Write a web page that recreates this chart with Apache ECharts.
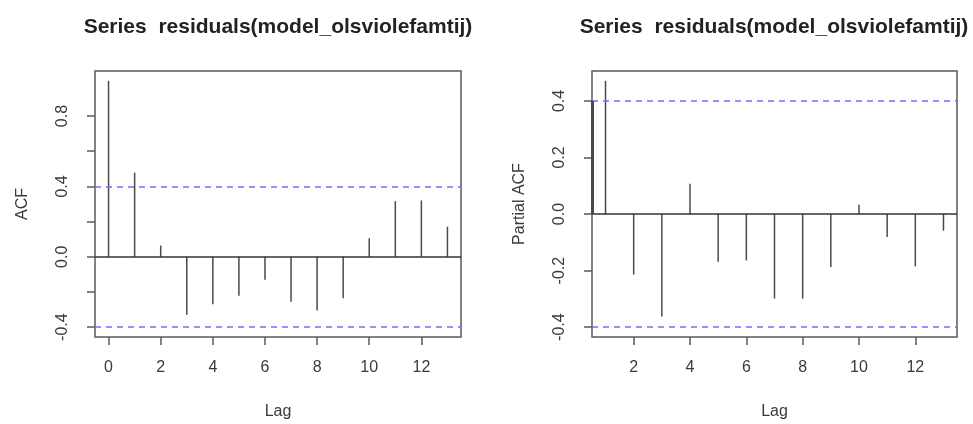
<!DOCTYPE html>
<html>
<head>
<meta charset="utf-8">
<script src="https://cdn.jsdelivr.net/npm/echarts@6/dist/echarts.min.js"></script>
<style>
  html, body { margin: 0; padding: 0; background: #ffffff; }
  #chart { width: 973px; height: 424px; }
</style>
</head>
<body>
<div id="chart"></div>
<script>
// Residual autocorrelation (ACF) and partial autocorrelation (PACF) by lag
const acfLags = [0, 1, 2, 3, 4, 5, 6, 7, 8, 9, 10, 11, 12, 13];
const acfValues = [1.0, 0.478, 0.064, -0.33, -0.27, -0.222, -0.131, -0.256, -0.306, -0.236, 0.106, 0.316, 0.32, 0.171];
const pacfLags = [1, 2, 3, 4, 5, 6, 7, 8, 9, 10, 11, 12, 13];
const pacfValues = [0.471, -0.214, -0.362, 0.107, -0.169, -0.164, -0.299, -0.299, -0.187, 0.033, -0.081, -0.185, -0.059];
const confBound = 0.4;

const chartTitle = 'Series  residuals(model_olsviolefamtij)';
const acfXTicks = [0, 2, 4, 6, 8, 10, 12];
const acfYTicks = [-0.4, -0.2, 0, 0.2, 0.4, 0.6, 0.8];
const acfYLabels = [-0.4, 0, 0.4, 0.8];
const pacfXTicks = [2, 4, 6, 8, 10, 12];
const pacfYTicks = [-0.4, -0.2, 0, 0.2, 0.4];

// R-style axis limits: data range widened by 4% on each side
function rRange(vals) {
  const lo = Math.min.apply(null, vals), hi = Math.max.apply(null, vals);
  const pad = (hi - lo) * 0.04;
  return [lo - pad, hi + pad];
}
const acfX = rRange(acfLags);
const acfY = rRange(acfValues.concat([-confBound, confBound]));
const pacfX = rRange(pacfLags);
const pacfY = rRange(pacfValues.concat([-confBound, confBound]));

const FONT = '"Liberation Sans", Arial, Helvetica, sans-serif';
const TEXT = '#3a3a3a';
const FRAME = '#5a5a5a';

function xAxisFor(idx, range, ticks) {
  return {
    type: 'value', gridIndex: idx, min: range[0], max: range[1],
    name: 'Lag', nameLocation: 'middle', nameGap: 67,
    nameTextStyle: { fontFamily: FONT, fontSize: 16, color: TEXT },
    axisLine: { show: false, onZero: false },
    axisTick: { show: true, inside: false, length: 8, customValues: ticks,
                lineStyle: { color: FRAME, width: 1.5 } },
    axisLabel: { show: true, margin: 23, customValues: ticks,
                 fontFamily: FONT, fontSize: 16, color: TEXT },
    splitLine: { show: false }
  };
}
function yAxisFor(idx, range, ticks, labels, title) {
  return {
    type: 'value', gridIndex: idx, min: range[0], max: range[1],
    name: title, nameLocation: 'middle', nameGap: 64, nameRotate: 90,
    nameTextStyle: { fontFamily: FONT, fontSize: 16, color: TEXT },
    axisLine: { show: false, onZero: false },
    axisTick: { show: true, inside: false, length: 8, customValues: ticks,
                lineStyle: { color: FRAME, width: 1.5 } },
    axisLabel: { show: true, margin: 24, rotate: 90, customValues: labels,
                 fontFamily: FONT, fontSize: 16, color: TEXT,
                 formatter: v => v.toFixed(1) },
    splitLine: { show: false }
  };
}

// vertical spike from zero to each correlation value
function spikeRender(params, api) {
  const lag = api.value(0), v = api.value(1);
  const p0 = api.coord([lag, 0]);
  const p1 = api.coord([lag, v]);
  return {
    type: 'line',
    shape: { x1: p0[0], y1: p0[1], x2: p1[0], y2: p1[1] },
    style: { stroke: '#4a4a4a', lineWidth: 1.5 }
  };
}

function guideLines(range) {
  return {
    silent: true, symbol: 'none', label: { show: false },
    emphasis: { disabled: true },
    data: [
      [{ coord: [range[0], 0], lineStyle: { color: '#333333', width: 1.5, type: 'solid' } },
       { coord: [range[1], 0] }],
      [{ coord: [range[0], confBound], lineStyle: { color: '#6f6fff', width: 1.5, type: [6, 5] } },
       { coord: [range[1], confBound] }],
      [{ coord: [range[0], -confBound], lineStyle: { color: '#6f6fff', width: 1.5, type: [6, 5] } },
       { coord: [range[1], -confBound] }]
    ]
  };
}

const chart = echarts.init(document.getElementById('chart'), null, { renderer: 'canvas' });
chart.setOption({
  animation: false,
  backgroundColor: '#ffffff',
  title: [
    { text: chartTitle, left: 273, top: 12, textAlign: 'center',
      textStyle: { fontFamily: FONT, fontSize: 21, fontWeight: 'bold', color: '#222222' } },
    { text: chartTitle, left: 769, top: 12, textAlign: 'center',
      textStyle: { fontFamily: FONT, fontSize: 21, fontWeight: 'bold', color: '#222222' } }
  ],
  grid: [
    { left: 95, right: 512, top: 71, bottom: 87, show: true, outerBoundsMode: 'none',
      containLabel: false, borderColor: FRAME, borderWidth: 1.5, backgroundColor: 'transparent' },
    { left: 592, right: 16, top: 71, bottom: 87, show: true, outerBoundsMode: 'none',
      containLabel: false, borderColor: FRAME, borderWidth: 1.5, backgroundColor: 'transparent' }
  ],
  xAxis: [
    xAxisFor(0, acfX, acfXTicks),
    xAxisFor(1, pacfX, pacfXTicks)
  ],
  yAxis: [
    yAxisFor(0, acfY, acfYTicks, acfYLabels, 'ACF'),
    yAxisFor(1, pacfY, pacfYTicks, pacfYTicks, 'Partial ACF')
  ],
  series: [
    {
      type: 'custom', xAxisIndex: 0, yAxisIndex: 0, silent: true,
      renderItem: spikeRender,
      data: acfLags.map((l, i) => [l, acfValues[i]]),
      markLine: guideLines(acfX)
    },
    {
      type: 'custom', xAxisIndex: 1, yAxisIndex: 1, silent: true,
      renderItem: spikeRender,
      data: pacfLags.map((l, i) => [l, pacfValues[i]]),
      markLine: Object.assign(guideLines(pacfX), {
        data: guideLines(pacfX).data.concat([
          [{ coord: [pacfX[0], 0], lineStyle: { color: '#4a4a4a', width: 3, type: 'solid' } },
           { coord: [pacfX[0], confBound] }]
        ])
      })
    }
  ]
});
</script>
</body>
</html>
